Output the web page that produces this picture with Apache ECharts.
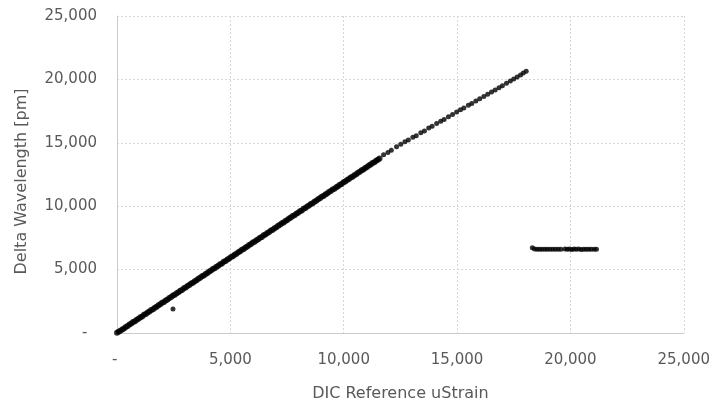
<!DOCTYPE html>
<html>
<head>
<meta charset="utf-8">
<script src="https://cdn.jsdelivr.net/npm/echarts@6/dist/echarts.min.js"></script>
<style>
html,body{margin:0;padding:0;background:#fff;}
#chart{width:713px;height:407px;}
</style>
</head>
<body>
<div id="chart"></div>
<script>
// Main series (DIC reference strain vs delta wavelength)
var denseX = [0,70,150,230,310,390,470,550,630,710,790,870,950,1030,1110,1190,1270,1350,1430,1510,1590,1670,1750,1830,1910,1990,2070,2150,2230,2310,2390,2470,2550,2630,2710,2790,2870,2950,3030,3110,3190,3270,3350,3430,3510,3590,3670,3750,3830,3910,3990,4070,4150,4230,4310,4390,4470,4550,4630,4710,4790,4870,4950,5030,5110,5190,5270,5350,5430,5510,5590,5670,5750,5830,5910,5990,6070,6150,6230,6310,6390,6470,6550,6630,6710,6790,6870,6950,7030,7110,7190,7270,7350,7430,7510,7590,7670,7750,7830,7910,7990,8070,8150,8230,8310,8390,8470,8550,8630,8710,8790,8870,8950,9030,9110,9190,9270,9350,9430,9510,9590,9670,9750,9830,9910,9990,10070,10150,10230,10310,10390,10470,10550,10630,10710,10790,10870,10950,11030,11110,11190,11270,11350,11430,11510,11580];
var denseY = [10,90,170,280,360,480,550,670,740,860,930,1050,1120,1240,1310,1430,1500,1620,1690,1810,1880,2000,2070,2190,2260,2380,2450,2570,2640,2760,2830,2950,3020,3140,3210,3330,3400,3520,3590,3710,3780,3900,3970,4090,4160,4280,4350,4470,4540,4660,4730,4850,4920,5040,5110,5230,5300,5420,5490,5610,5680,5800,5870,5990,6060,6180,6250,6370,6440,6560,6630,6750,6820,6940,7010,7130,7200,7320,7390,7510,7580,7700,7770,7890,7960,8080,8150,8270,8340,8460,8530,8650,8720,8840,8910,9030,9100,9220,9290,9410,9480,9600,9670,9790,9860,9980,10050,10170,10240,10360,10430,10550,10620,10740,10810,10930,11000,11120,11190,11310,11380,11500,11570,11690,11760,11880,11950,12070,12140,12260,12330,12450,12520,12640,12710,12830,12900,13020,13090,13210,13280,13400,13470,13590,13660,13770];
var sparseX = [11760,11950,12100,12330,12520,12700,12850,13050,13200,13400,13560,13750,13900,14100,14280,14430,14620,14800,14980,15150,15300,15500,15650,15830,16000,16180,16350,16520,16680,16850,17000,17180,17350,17500,17650,17800,17920,18050];
var sparseY = [14050,14230,14420,14680,14880,15080,15220,15430,15560,15800,15940,16160,16300,16520,16700,16840,17060,17230,17420,17600,17740,17960,18100,18300,18470,18660,18830,19010,19170,19350,19500,19700,19870,20030,20180,20350,20500,20650];
var outlierX = [2470];
var outlierY = [1885];
var clusterX = [18320,18420,18530,18640,18750,18870,18980,19100,19220,19340,19460,19580,19760,19860,19960,20060,20160,20260,20370,20480,20590,20700,20810,20920,21050,21150];
var clusterY = [6730,6620,6600,6600,6600,6600,6600,6600,6600,6610,6600,6600,6620,6600,6630,6590,6620,6600,6620,6590,6610,6600,6600,6610,6600,6600];
var xTicks = [0,5000,10000,15000,20000,25000];
var yTicks = [0,5000,10000,15000,20000,25000];

function pairs(xs, ys){ var out=[]; for(var i=0;i<xs.length;i++){ out.push([xs[i], ys[i]]); } return out; }
var denseData = pairs(denseX, denseY);
var otherData = pairs(sparseX, sparseY).concat(pairs(outlierX, outlierY), pairs(clusterX, clusterY));

function fmt(v){ return v === 0 ? '-' : v.toLocaleString('en-US'); }
var FONT = 'DejaVu Sans';
var GRID = '#d6d6d6';
var chart = echarts.init(document.getElementById('chart'), null, {renderer:'canvas'});
chart.setOption({
  animation:false,
  backgroundColor:'#ffffff',
  grid:{left:117, right:29, top:16, bottom:72, containLabel:false},
  xAxis:{
    type:'value', min:xTicks[0], max:xTicks[xTicks.length-1], interval:5000,
    name:'DIC Reference uStrain', nameLocation:'middle', nameGap:53,
    nameTextStyle:{color:'#595959', fontSize:16, fontFamily:FONT},
    axisLine:{show:true, lineStyle:{color:'#cccccc', width:1}},
    axisTick:{show:false},
    splitLine:{show:true, lineStyle:{color:GRID, type:[2,2], width:1}},
    axisLabel:{color:'#595959', fontSize:15, fontFamily:FONT, margin:20, formatter:function(v){ return v===0 ? '- ' : fmt(v); }}
  },
  yAxis:{
    type:'value', min:yTicks[0], max:yTicks[yTicks.length-1], interval:5000,
    name:'Delta Wavelength [pm]', nameLocation:'middle', nameGap:87,
    nameTextStyle:{color:'#595959', fontSize:16, fontFamily:FONT, padding:[0,14,0,0]},
    axisLine:{show:true, lineStyle:{color:'#cccccc', width:1}},
    axisTick:{show:false},
    splitLine:{show:true, lineStyle:{color:GRID, type:[2,2], width:1}},
    axisLabel:{color:'#595959', fontSize:15, fontFamily:FONT, margin:20, formatter:function(v){ return v===0 ? '-  ' : fmt(v); }}
  },
  series:[{
    type:'scatter', data:denseData, symbol:'circle', symbolSize:6,
    itemStyle:{color:'#000000'}
  },{
    type:'scatter', data:otherData, symbol:'circle', symbolSize:5,
    itemStyle:{color:'#000000'}
  }]
});
</script>
</body>
</html>
